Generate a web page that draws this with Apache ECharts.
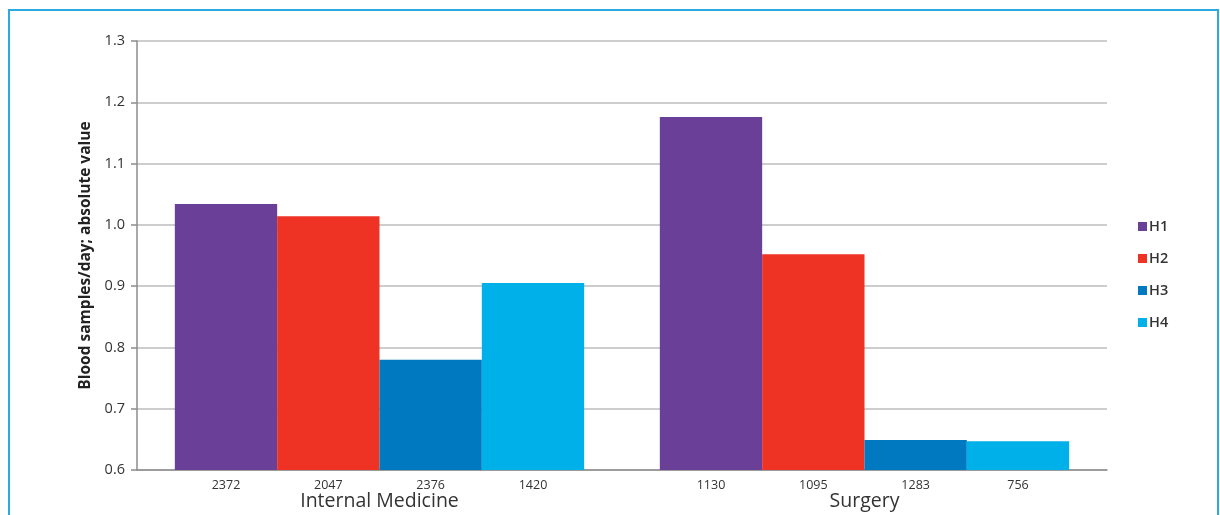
<!DOCTYPE html>
<html>
<head>
<meta charset="utf-8">
<script src="https://cdn.jsdelivr.net/npm/echarts@6/dist/echarts.min.js"></script>
<style>
  html, body { margin: 0; padding: 0; background: #fff; }
  #chart { position: absolute; left: 0; top: 0; width: 1220px; height: 515px; }
  #frame { position: absolute; left: 8px; top: 9px; width: 1207px; height: 520px;
           border: 2px solid #29abe2; pointer-events: none; }
</style>
</head>
<body>
<div id="chart"></div>
<div id="frame"></div>
<script>
// Departments on the x axis
const departments = ['Internal Medicine', 'Surgery'];
// Hospitals shown as series
const hospitals = ['H1', 'H2', 'H3', 'H4'];
// Blood samples per day (absolute value), per hospital, per department
const h1Values = [1.034, 1.176];
const h2Values = [1.014, 0.952];
const h3Values = [0.780, 0.649];
const h4Values = [0.905, 0.647];
// Number of patients behind each bar
const h1Counts = [2372, 1130];
const h2Counts = [2047, 1095];
const h3Counts = [2376, 1283];
const h4Counts = [1420, 756];
// Y-axis range and step
const yMin = 0.6, yMax = 1.3, yStep = 0.1;

const colors = ['#6a3f97', '#ee3224', '#0079c1', '#00b0e8'];
const valueSets = [h1Values, h2Values, h3Values, h4Values];
const countSets = [h1Counts, h2Counts, h3Counts, h4Counts];
const fontFamily = '"Open Sans", Lato, sans-serif';

const chart = echarts.init(document.getElementById('chart'), null, { renderer: 'canvas' });

chart.setOption({
  animation: false,
  textStyle: { fontFamily: fontFamily },
  grid: { left: 137, right: 113, top: 41, bottom: 45, containLabel: false },
  legend: {
    orient: 'vertical',
    left: 1133,
    top: 214,
    icon: 'rect',
    itemWidth: 9,
    itemHeight: 9,
    itemGap: 17,
    data: hospitals,
    textStyle: { fontSize: 14.5, fontWeight: 600, color: '#333', fontFamily: fontFamily, padding: [0, 0, 0, -3] }
  },
  xAxis: {
    type: 'category',
    data: departments,
    axisLine: { lineStyle: { color: '#8c8c8c', width: 1.5 } },
    axisTick: { show: false },
    axisLabel: { margin: 21, fontSize: 19.5, color: '#333', fontFamily: fontFamily }
  },
  yAxis: {
    type: 'value',
    min: yMin,
    max: yMax,
    interval: yStep,
    startValue: yMin,
    name: 'Blood samples/day; absolute value',
    nameLocation: 'middle',
    nameGap: 43,
    nameTextStyle: { fontSize: 15.5, fontWeight: 'bold', color: '#222', fontFamily: fontFamily },
    axisLine: { show: true, lineStyle: { color: '#8c8c8c', width: 1.5 } },
    axisTick: { show: true, length: 6, lineStyle: { color: '#8c8c8c', width: 1.5 } },
    axisLabel: { margin: 12, fontSize: 14.5, color: '#333', fontFamily: fontFamily,
                 formatter: v => v.toFixed(1) },
    splitLine: { lineStyle: { color: '#bdbdbd', width: 1.5 } }
  },
  series: hospitals.map((name, i) => ({
    name: name,
    type: 'bar',
    data: valueSets[i],
    barGap: '0%',
    barCategoryGap: '15.6%',
    itemStyle: { color: colors[i] },
    label: {
      show: true,
      position: 'bottom',
      distance: 9,
      fontSize: 12.5,
      color: '#333',
      fontFamily: fontFamily,
      formatter: p => String(countSets[i][p.dataIndex])
    }
  }))
});
</script>
</body>
</html>
